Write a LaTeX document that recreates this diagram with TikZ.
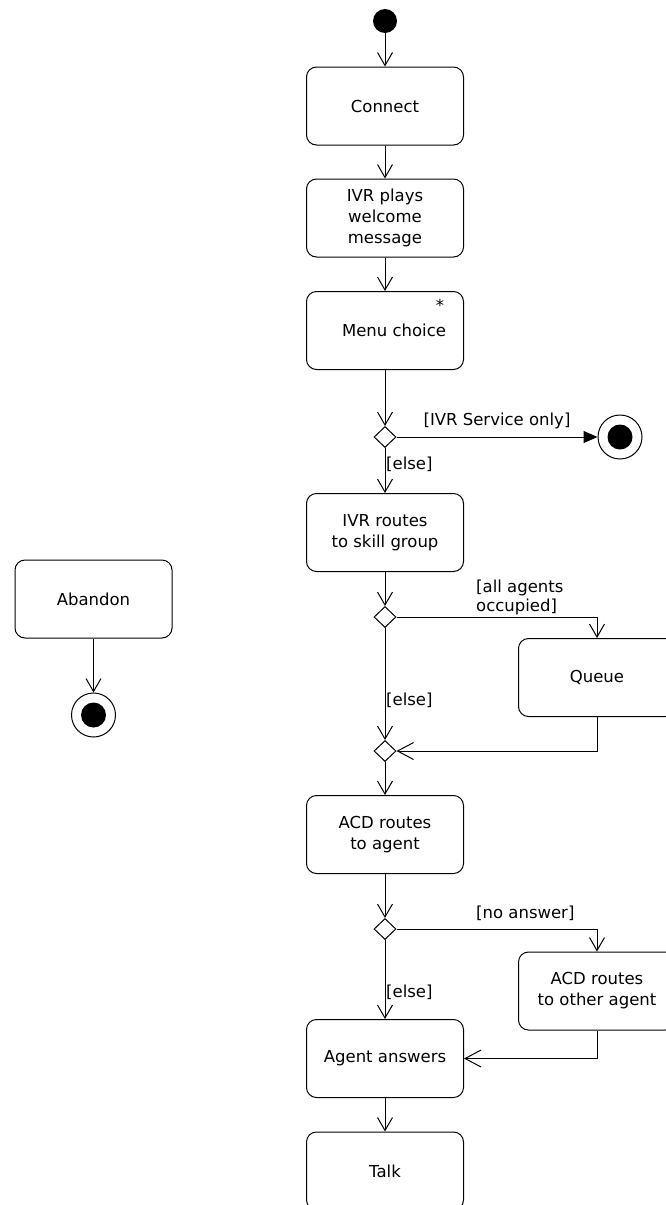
\documentclass[tikz,border=0pt]{standalone}
\usepackage{fontspec}
\setmainfont{DejaVu Sans}
\usetikzlibrary{shapes.geometric,arrows.meta}
\begin{document}
\begin{tikzpicture}[x=1pt,y=-1pt,
  every node/.style={font=\fontsize{16.5}{21}\selectfont},
  act/.style={draw, rounded corners=10pt, minimum width=157pt, minimum height=78pt, align=center, inner sep=0pt, line width=1pt},
  dec/.style={draw, diamond, minimum width=22pt, minimum height=21pt, inner sep=0pt, line width=1pt},
  startnode/.style={circle, fill, minimum size=24pt, inner sep=0pt},
  endnode/.style={circle, draw, line width=1pt, minimum size=44pt, inner sep=0pt,
    path picture={\fill (path picture bounding box.center) circle (12.5pt);}},
  flow/.style={draw, line width=1pt, -{Straight Barb[length=13pt,width=15pt]}},
  merge/.style={draw, line width=1pt, -{Straight Barb[length=16pt,width=17pt]}},
  finalflow/.style={draw, line width=1pt, -{Triangle[length=14pt,width=12pt]}},
  guard/.style={inner sep=0pt, align=left}
]
\useasboundingbox (0,0) rectangle (665,1205);

\node[startnode] (init) at (385,21) {};
\node[act] (connect) at (385,106) {Connect};
\node[act] (welcome) at (385,218) {IVR plays\\welcome\\message};
\node[act] (menu) at (385,330.5) {\hspace*{18pt}Menu choice};
\node (star) at (440,305) {*};
\node[dec] (d1) at (385,437) {};
\node[endnode] (fin1) at (620,437) {};
\node[act] (skill) at (385,532.5) {IVR routes\\to skill group};
\node[dec] (d2) at (385,617) {};
\node[act] (queue) at (597,677.5) {Queue};
\node[dec] (d3) at (385,751) {};
\node[act] (acd) at (385,834.5) {ACD routes\\to agent};
\node[dec] (d4) at (385,929) {};
\node[act] (other) at (597,991) {ACD routes\\to other agent};
\node[act] (agent) at (385,1058.5) {Agent answers};
\node[act] (talk) at (385,1171) {Talk};
\node[act] (abandon) at (93.5,599) {Abandon};
\node[endnode] (fin2) at (93.5,715) {};

\node[guard, anchor=center] (g1) at (497,421) {[IVR Service only]};
\node[guard, anchor=west] (g2) at (386,464) {[else]};
\node[guard, anchor=west] (g3) at (476,597) {[all agents\\[-2pt]occupied]};
\node[guard, anchor=west] (g4) at (386,700) {[else]};
\node[guard, anchor=west] (g5) at (476,913) {[no answer]};
\node[guard, anchor=west] (g6) at (386,992) {[else]};

\path[flow] (init) -- (connect);
\path[flow] (connect) -- (welcome);
\path[flow] (welcome) -- (menu);
\path[flow] (menu) -- (d1);
\path[finalflow] (d1) -- (fin1);
\path[flow] (d1) -- (skill);
\path[flow] (skill) -- (d2);
\path[flow] (d2.east) -| (queue.north);
\path[flow] (d2) -- (d3);
\path[merge] (queue.south) |- (d3.east);
\path[flow] (d3) -- (acd);
\path[flow] (acd) -- (d4);
\path[flow] (d4.east) -| (other.north);
\path[flow] (d4) -- (agent);
\path[merge] (other.south) |- (agent.east);
\path[flow] (agent) -- (talk);
\path[flow] (abandon) -- (fin2);
\end{tikzpicture}
\end{document}
